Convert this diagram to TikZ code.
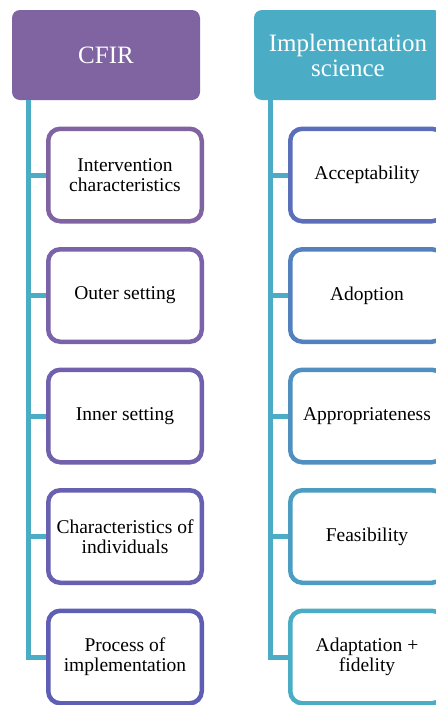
\documentclass[tikz,border=0pt]{standalone}
\usepackage{fontspec}
\setmainfont{Liberation Serif}
\definecolor{cfirhead}{HTML}{8064A2}
\definecolor{impHead}{HTML}{4BACC6}
\definecolor{connC}{HTML}{4BACC6}
\definecolor{lA}{HTML}{8064A2}
\definecolor{lB}{HTML}{7A63A8}
\definecolor{lC}{HTML}{7161AD}
\definecolor{lD}{HTML}{6860B1}
\definecolor{lE}{HTML}{5D5EB4}
\definecolor{rA}{HTML}{5A6EBA}
\definecolor{rB}{HTML}{5580BE}
\definecolor{rC}{HTML}{5090C0}
\definecolor{rD}{HTML}{4D9DC3}
\definecolor{rE}{HTML}{4BACC6}
\tikzset{
  headbox/.style={rounded corners=8pt, minimum width=188pt, minimum height=90pt,
    text=white, align=center, inner sep=0pt,
    font=\fontsize{25}{25}\selectfont},
  childbox/.style={draw, line width=4.5pt, fill=white, rounded corners=12pt,
    minimum width=153.5pt, minimum height=92.5pt, inner sep=0pt,
    align=center, text=black, font=\fontsize{19.5}{20}\selectfont},
  conn/.style={draw=connC, line width=5pt, line join=miter}
}
\begin{document}
\begin{tikzpicture}[x=1pt,y=-1pt]
\useasboundingbox (0,0) rectangle (436,705);
\clip (0,0) rectangle (436,705);
\fill[white] (0,0) rectangle (436,705);
% headers
\node[headbox, fill=cfirhead] (h1) at (106,55) {CFIR};
\node[headbox, fill=impHead] (h2) at (348,55) {Implementation\\science};
% trunks
\coordinate (t1) at (28,100);
\coordinate (t2) at (270,100);
% left children
\node[childbox, draw=lA] (l1) at (125,175) {Intervention\\characteristics};
\node[childbox, draw=lB] (l2) at (125,295.5) {Outer setting};
\node[childbox, draw=lC] (l3) at (125,416) {Inner setting};
\node[childbox, draw=lD] (l4) at (125,536.5) {Characteristics of\\individuals};
\node[childbox, draw=lE] (l5) at (125,657) {Process of\\implementation};
% right children
\node[childbox, draw=rA] (r1) at (367,175) {Acceptability};
\node[childbox, draw=rB] (r2) at (367,295.5) {Adoption};
\node[childbox, draw=rC] (r3) at (367,416) {Appropriateness};
\node[childbox, draw=rD] (r4) at (367,536.5) {Feasibility};
\node[childbox, draw=rE] (r5) at (367,657) {Adaptation +\\fidelity};
% connectors
\draw[conn] (t1) |- (l5.west);
\foreach \n in {l1,l2,l3,l4} \draw[conn] (t1 |- \n.west) -- (\n.west);
\draw[conn] (t2) |- (r5.west);
\foreach \n in {r1,r2,r3,r4} \draw[conn] (t2 |- \n.west) -- (\n.west);
\end{tikzpicture}
\end{document}
